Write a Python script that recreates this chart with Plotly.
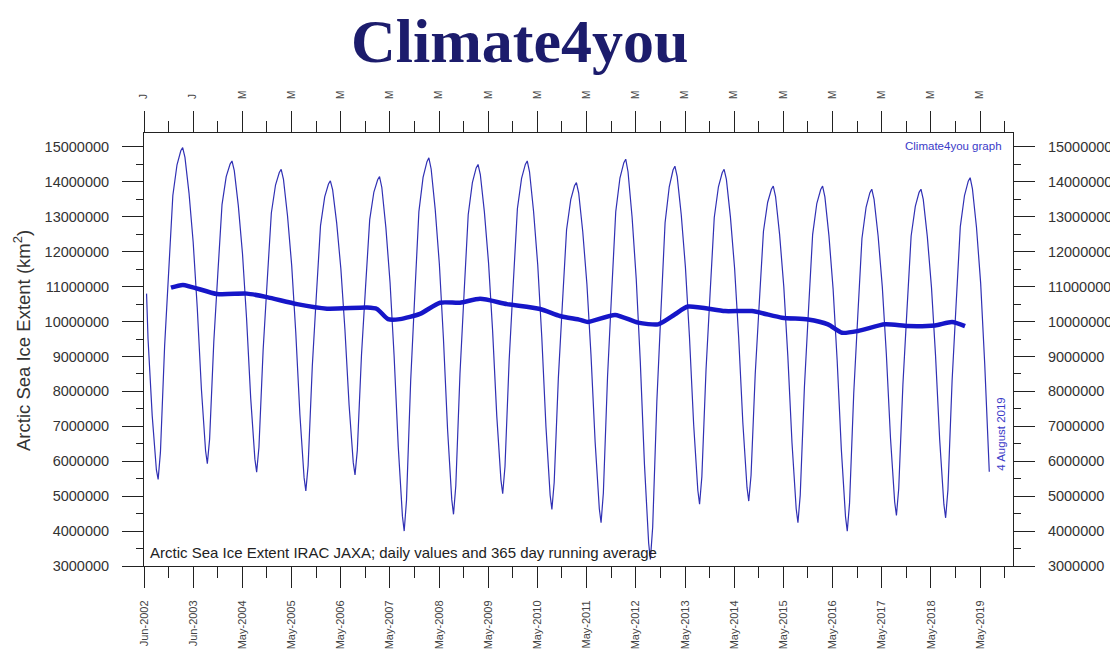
import plotly.graph_objects as go
from datetime import date, timedelta

# ---------------- data (million km2) ----------------
anchor_full = ["01-01", "02-01", "03-01", "03-15", "04-01", "05-01", "06-01",
               "07-01", "08-01", "09-01", "09-14", "10-01", "11-01", "12-01"]
anchor_2002 = ["06-20", "07-01", "08-01", "09-01", "09-14", "10-01", "11-01", "12-01"]
anchor_2019 = ["01-01", "02-01", "03-01", "03-15", "04-01", "05-01", "06-01",
               "07-01", "08-01", "08-04"]

ext_2002 = [10.80, 9.50, 7.30, 5.75, 5.48, 6.26, 9.30, 11.46]
ext_2003 = [13.61, 14.49, 14.89, 14.98, 14.70, 13.68, 12.27, 10.41, 8.07, 6.30, 5.93, 6.64, 9.42, 11.38]
ext_2004 = [13.35, 14.15, 14.51, 14.60, 14.32, 13.32, 11.94, 10.10, 7.80, 6.06, 5.69, 6.40, 9.18, 11.14]
ext_2005 = [13.11, 13.91, 14.27, 14.36, 14.07, 13.03, 11.61, 9.71, 7.33, 5.53, 5.15, 5.88, 8.72, 10.74]
ext_2006 = [12.75, 13.57, 13.94, 14.03, 13.77, 12.82, 11.51, 9.78, 7.61, 5.96, 5.61, 6.31, 9.04, 10.98]
ext_2007 = [12.92, 13.71, 14.06, 14.15, 13.84, 12.69, 11.12, 9.02, 6.41, 4.42, 4.00, 4.88, 8.30, 10.72]
ext_2008 = [13.15, 14.13, 14.58, 14.69, 14.37, 13.22, 11.64, 9.53, 6.90, 4.90, 4.48, 5.30, 8.51, 10.78]
ext_2009 = [13.06, 13.98, 14.40, 14.50, 14.21, 13.14, 11.68, 9.74, 7.30, 5.46, 5.07, 5.85, 8.90, 11.06]
ext_2010 = [13.23, 14.10, 14.50, 14.60, 14.29, 13.16, 11.62, 9.56, 6.99, 5.03, 4.62, 5.39, 8.38, 10.51]
ext_2011 = [12.63, 13.49, 13.89, 13.98, 13.68, 12.58, 11.07, 9.06, 6.55, 4.64, 4.24, 5.09, 8.42, 10.79]
ext_2012 = [13.15, 14.11, 14.55, 14.65, 14.29, 13.00, 11.22, 8.86, 5.91, 3.66, 3.19, 4.11, 7.72, 10.27]
ext_2013 = [12.83, 13.86, 14.34, 14.45, 14.15, 13.06, 11.56, 9.56, 7.06, 5.17, 4.77, 5.56, 8.63, 10.80]
ext_2014 = [12.98, 13.86, 14.26, 14.36, 14.07, 12.99, 11.52, 9.56, 7.11, 5.25, 4.86, 5.60, 8.49, 10.53]
ext_2015 = [12.58, 13.41, 13.79, 13.88, 13.58, 12.49, 11.00, 9.01, 6.52, 4.64, 4.24, 5.03, 8.12, 10.30]
ext_2016 = [12.49, 13.38, 13.78, 13.88, 13.57, 12.46, 10.93, 8.89, 6.34, 4.41, 4.00, 4.80, 7.94, 10.16]
ext_2017 = [12.38, 13.28, 13.69, 13.79, 13.50, 12.45, 11.00, 9.07, 6.66, 4.83, 4.45, 5.22, 8.20, 10.32]
ext_2018 = [12.45, 13.30, 13.70, 13.79, 13.50, 12.44, 10.98, 9.04, 6.61, 4.77, 4.38, 5.18, 8.30, 10.51]
ext_2019 = [12.72, 13.61, 14.02, 14.12, 13.80, 12.70, 11.10, 8.80, 6.00, 5.70]

run_dates = ["2002-12-18", "2003-03-17", "2003-11-25", "2004-07-04", "2004-11-30",
             "2005-07-11", "2006-02-18", "2006-12-12", "2007-02-24", "2007-05-17",
             "2007-08-14", "2008-01-09", "2008-06-06", "2008-11-01", "2009-03-30",
             "2009-10-16", "2010-06-18", "2010-11-13", "2011-04-11", "2011-06-09",
             "2011-12-27", "2012-06-14", "2012-11-10", "2013-03-16", "2013-06-20",
             "2014-03-22", "2014-10-08", "2015-05-19", "2015-11-28", "2016-04-24",
             "2016-08-06", "2016-12-03", "2017-06-21", "2017-12-09", "2018-06-27",
             "2018-11-01", "2019-02-05"]
run_vals = [10.97, 11.05, 10.79, 10.80, 10.70, 10.50, 10.37, 10.40, 10.36, 10.07,
            10.07, 10.22, 10.54, 10.54, 10.65, 10.50, 10.36, 10.16, 10.05, 9.99,
            10.19, 9.97, 9.92, 10.21, 10.43, 10.30, 10.30, 10.11, 10.06, 9.92,
            9.68, 9.73, 9.92, 9.87, 9.89, 9.99, 9.87]

tick_dates = ["2002-06-01", "2003-06-01", "2004-05-31", "2005-05-31", "2006-05-31",
              "2007-05-31", "2008-05-30", "2009-05-30", "2010-05-30", "2011-05-30",
              "2012-05-29", "2013-05-29", "2014-05-29", "2015-05-29", "2016-05-28",
              "2017-05-28", "2018-05-28", "2019-05-28"]
tick_labels = ["Jun-2002", "Jun-2003", "May-2004", "May-2005", "May-2006", "May-2007",
               "May-2008", "May-2009", "May-2010", "May-2011", "May-2012", "May-2013",
               "May-2014", "May-2015", "May-2016", "May-2017", "May-2018", "May-2019"]
top_labels = ["J", "J", "M", "M", "M", "M", "M", "M", "M", "M", "M", "M", "M", "M",
              "M", "M", "M", "M"]

y_ticks = [3e6 + i * 1e6 for i in range(13)]

# ---------------- build series ----------------
year_series = [(2002, anchor_2002, ext_2002)]
for yr, vals in [(2003, ext_2003), (2004, ext_2004), (2005, ext_2005), (2006, ext_2006),
                 (2007, ext_2007), (2008, ext_2008), (2009, ext_2009), (2010, ext_2010),
                 (2011, ext_2011), (2012, ext_2012), (2013, ext_2013), (2014, ext_2014),
                 (2015, ext_2015), (2016, ext_2016), (2017, ext_2017), (2018, ext_2018)]:
    year_series.append((yr, anchor_full, vals))
year_series.append((2019, anchor_2019, ext_2019))

daily_x, daily_y = [], []
for yr, anchors, vals in year_series:
    for md, v in zip(anchors, vals):
        daily_x.append(f"{yr}-{md}")
        daily_y.append(v * 1e6)

run_y = [v * 1e6 for v in run_vals]

td = [date.fromisoformat(d) for d in tick_dates]
minor_ticks = [(td[i] + (td[i + 1] - td[i]) / 2).isoformat() for i in range(len(td) - 1)]
minor_ticks.append((td[-1] + timedelta(days=182)).isoformat())

x_range = ["2002-06-01", "2020-01-27"]
y_range = [3.0e6, 15.4e6]

AX = "#222222"
TICKFONT = dict(family="Liberation Sans, Arial", size=14.5, color="#333333")

fig = go.Figure()
fig.add_trace(go.Scatter(x=daily_x, y=daily_y, mode="lines",
                         line=dict(color="#3030b4", width=1.2), showlegend=False,
                         hoverinfo="skip"))
fig.add_trace(go.Scatter(x=run_dates, y=run_y, mode="lines",
                         line=dict(color="#1616c8", width=4.5, shape="spline", smoothing=0.6),
                         showlegend=False, hoverinfo="skip"))
# invisible trace for secondary axes
fig.add_trace(go.Scatter(x=[x_range[0]], y=[y_range[0]], xaxis="x2", yaxis="y2",
                         mode="markers", marker=dict(opacity=0), showlegend=False,
                         hoverinfo="skip"))

# the page body adds an 8px offset; the figure is sized/margined to compensate
fig.update_layout(
    width=1110, height=643,
    margin=dict(l=136, r=105, t=125, b=85, autoexpand=False),
    paper_bgcolor="white", plot_bgcolor="white",
    xaxis=dict(range=x_range, type="date", showgrid=False, zeroline=False,
               automargin=False,
               showline=True, linecolor=AX, linewidth=1,
               tickmode="array", tickvals=tick_dates, ticktext=tick_labels,
               tickangle=-90, ticks="outside", ticklen=21, tickcolor=AX, tickwidth=1,
               ticklabelstandoff=8,
               tickfont=dict(family="Liberation Sans, Arial", size=11, color="#444444"),
               minor=dict(tickmode="array", tickvals=minor_ticks, ticks="outside",
                          ticklen=11, tickcolor=AX, tickwidth=1, showgrid=False)),
    xaxis2=dict(range=x_range, type="date", overlaying="x", side="top",
                showgrid=False, zeroline=False, automargin=False,
                showline=True, linecolor=AX, linewidth=1,
                tickmode="array", tickvals=tick_dates, ticktext=top_labels,
                tickangle=-90, ticks="outside", ticklen=21, tickcolor=AX, tickwidth=1,
                ticklabelstandoff=10,
                tickfont=dict(family="Liberation Sans, Arial", size=10, color="#444444"),
                minor=dict(tickmode="array", tickvals=minor_ticks, ticks="outside",
                           ticklen=11, tickcolor=AX, tickwidth=1, showgrid=False)),
    yaxis=dict(range=y_range, showgrid=False, zeroline=False, automargin=False,
               showline=True, linecolor=AX, linewidth=1,
               tickmode="array", tickvals=y_ticks, tickformat="d",
               ticks="outside", ticklen=21, tickcolor=AX, tickwidth=1,
               ticklabelstandoff=10, tickfont=TICKFONT,
               minor=dict(dtick=5e5, tick0=3e6, ticks="outside", ticklen=7,
                          tickcolor=AX, tickwidth=1, showgrid=False)),
    yaxis2=dict(range=y_range, overlaying="y", side="right", showgrid=False,
                zeroline=False, automargin=False,
                showline=True, linecolor=AX, linewidth=1,
                tickmode="array", tickvals=y_ticks, tickformat="d",
                ticks="outside", ticklen=21, tickcolor=AX, tickwidth=1,
                ticklabelstandoff=10, tickfont=TICKFONT,
                minor=dict(dtick=5e5, tick0=3e6, ticks="outside", ticklen=7,
                           tickcolor=AX, tickwidth=1, showgrid=False)),
    annotations=[
        dict(text="<b>Climate4you</b>", xref="paper", yref="paper",
             x=0.4327, y=1.212, xanchor="center", yanchor="middle", showarrow=False,
             font=dict(family="Liberation Serif, Times New Roman", size=62, color="#1c1c6c")),
        dict(text="Arctic Sea Ice Extent (km<sup>2</sup>)", xref="paper", yref="paper",
             x=-0.1404, y=0.522, xanchor="center", yanchor="middle", textangle=-90,
             showarrow=False,
             font=dict(family="Liberation Sans, Arial", size=18.5, color="#333333")),
        dict(text="Climate4you graph", xref="paper", yref="paper",
             x=0.9896, y=0.970, xanchor="right", yanchor="middle", showarrow=False,
             font=dict(family="Liberation Sans, Arial", size=11.5, color="#3a3ac8")),
        dict(text="4 August 2019", xref="paper", yref="paper",
             x=0.986, y=0.305, xanchor="center", yanchor="middle", textangle=-90,
             showarrow=False,
             font=dict(family="Liberation Sans, Arial", size=11.5, color="#3a3ac8")),
        dict(text="Arctic Sea Ice Extent IRAC JAXA; daily values and 365 day running average",
             xref="paper", yref="paper", x=0.0046, y=0.032, xanchor="left",
             yanchor="middle", showarrow=False,
             font=dict(family="Liberation Sans, Arial", size=15, color="#222222")),
    ],
)

fig.write_html("out.html")
